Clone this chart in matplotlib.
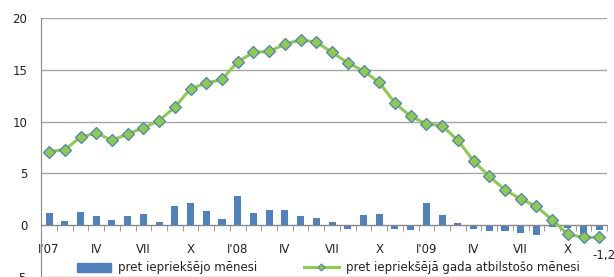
import matplotlib
matplotlib.use('Agg')
import matplotlib.pyplot as plt
from matplotlib.lines import Line2D
from matplotlib.patches import Patch
import numpy as np

# months Jan 2007 .. Dec 2009
months = list(range(36))
tick_labels = ["I'07", 'IV', 'VII', 'X', "I'08", 'IV', 'VII', 'X', "I'09", 'IV', 'VII', 'X']

# change vs previous month, %
mom = [1.2, 0.4, 1.3, 0.9, 0.5, 0.9, 1.1, 0.3, 1.8, 2.1, 1.4, 0.6,
       2.8, 1.2, 1.5, 1.5, 0.9, 0.7, 0.3, -0.4, 1.0, 1.1, -0.4, -0.5,
       2.1, 1.0, 0.2, -0.4, -0.6, -0.55, -0.75, -1.0, -0.2, -0.3, -0.9, -0.5]
# change vs same month of previous year, %
yoy = [7.1, 7.3, 8.5, 8.9, 8.2, 8.8, 9.4, 10.1, 11.4, 13.2, 13.7, 14.1,
       15.8, 16.7, 16.8, 17.5, 17.9, 17.7, 16.7, 15.7, 14.9, 13.8, 11.8, 10.5,
       9.8, 9.6, 8.2, 6.2, 4.7, 3.4, 2.5, 1.8, 0.5, -0.9, -1.2, -1.2]

label_mom = 'pret iepriekšējo mēnesi'
label_yoy = 'pret iepriekšējā gada atbilstošo mēnesi'

BLUE = '#4F81BD'
GREEN = '#8FCB4A'
GRID = '#A6A6A6'
TEXT = '#222222'

W, H = 614, 277
fig = plt.figure(figsize=(W / 100, H / 100), dpi=100)
ax = fig.add_axes([41.2 / W, 0.3 / H, 566 / W, 258.4 / H])

ax.bar(months, mom, width=0.45, color=BLUE, zorder=2)
ax.plot(months, yoy, color=GREEN, lw=2.2, marker='D', markersize=6.3,
        markerfacecolor=GREEN, markeredgecolor=BLUE, markeredgewidth=0.9,
        zorder=4)

ax.annotate(f'{yoy[-1]:.1f}'.replace('.', ','), (months[-1], yoy[-1]),
            xytext=(3, -13), textcoords='offset points', ha='center',
            va='center', fontsize=8.5, color=TEXT)

ax.set_xlim(-0.5, 35.5)
ax.set_ylim(-5, 20)
ax.set_yticks([-5, 0, 5, 10, 15, 20])
ax.yaxis.grid(True, color=GRID, lw=1)
ax.set_axisbelow(True)
for s in ['top', 'right']:
    ax.spines[s].set_visible(False)
ax.spines['bottom'].set_position(('data', 0))
ax.spines['bottom'].set_color('#888888')
ax.spines['left'].set_color('#888888')
ax.spines['bottom'].set_zorder(3)

ax.set_xticks(np.arange(-0.5, 36, 1), minor=True)
ax.set_xticks(months[::3])
ax.set_xticklabels(tick_labels)
ax.tick_params(axis='x', which='major', length=0, pad=13, labelsize=8.5,
               labelcolor=TEXT)
ax.tick_params(axis='x', which='minor', length=4, color='#888888',
               direction='out')
ax.tick_params(axis='y', length=0, pad=10, labelsize=8.5, labelcolor=TEXT)

handles = [
    Patch(color=BLUE),
    Line2D([], [], color=GREEN, lw=2.2, marker='D', markersize=3.5,
           markerfacecolor=GREEN, markeredgecolor=BLUE, markeredgewidth=0.8),
]
fig.legend(handles, [label_mom, label_yoy], loc='center',
           bbox_to_anchor=(328 / W, 1 - 268 / H), ncol=2,
           frameon=False, fontsize=8.5, handlelength=2.9, handleheight=0.7,
           columnspacing=4.0, handletextpad=0.6, borderaxespad=0,
           labelcolor=TEXT)

fig.savefig('out.png', dpi=100)
